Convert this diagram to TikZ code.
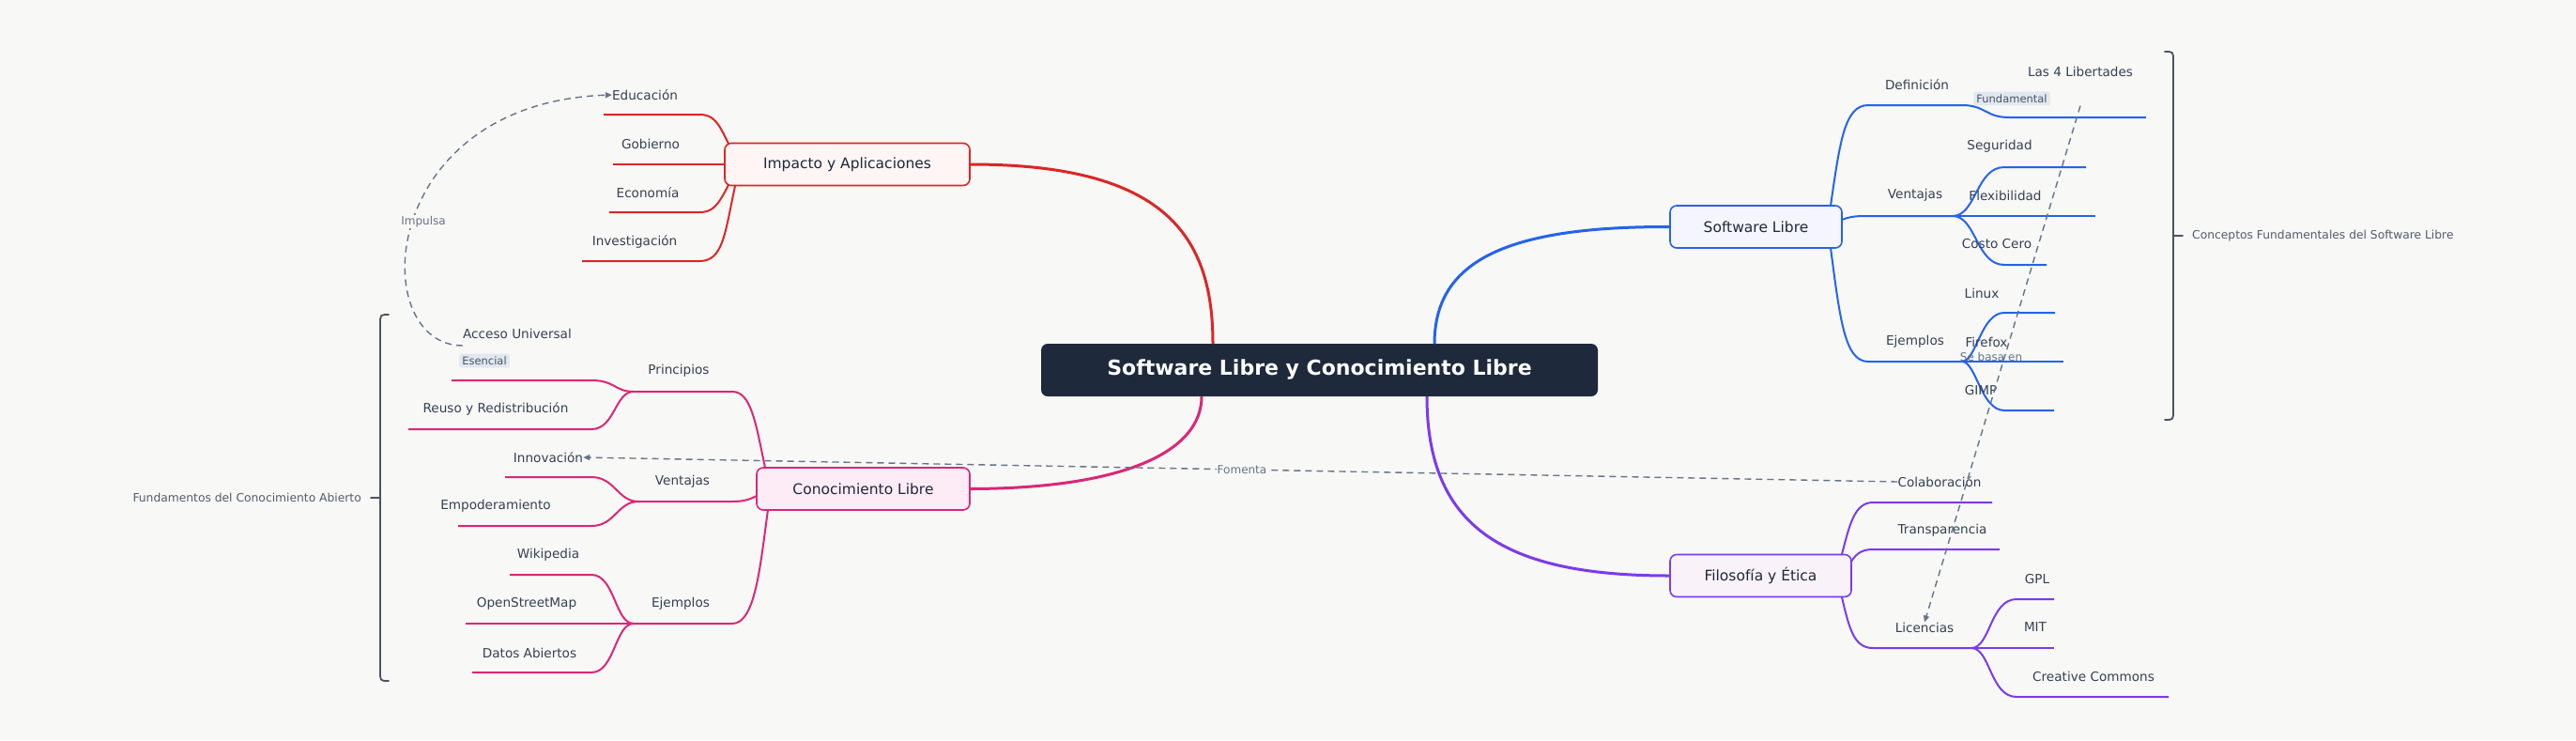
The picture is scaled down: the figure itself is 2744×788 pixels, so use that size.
\documentclass[tikz,border=0pt]{standalone}
\usepackage{fontspec}
\setmainfont{DejaVu Sans}
\usetikzlibrary{arrows.meta}
\definecolor{bg}{HTML}{F8F8F6}
\definecolor{txt}{HTML}{334155}
\definecolor{dark}{HTML}{1E293B}
\definecolor{cblue}{HTML}{2563EB}
\definecolor{cpurp}{HTML}{7C3AED}
\definecolor{cred}{HTML}{DC2626}
\definecolor{cpink}{HTML}{DB2777}
\definecolor{rel}{HTML}{64748B}
\definecolor{tagbg}{HTML}{E2E8F0}
\begin{document}
\begin{tikzpicture}[x=1pt,y=-1pt,
  lbl/.style={text=txt,font=\fontsize{13.6}{15}\selectfont,inner sep=0pt},
  mainnode/.style={draw,line width=1.6pt,rounded corners=7pt,minimum height=45pt,font=\fontsize{15.5}{17}\selectfont,text=dark,inner xsep=10pt},
  tagn/.style={fill=tagbg,rounded corners=2pt,text=txt!90,font=\fontsize{11.5}{13}\selectfont,inner sep=3pt},
  relline/.style={draw=rel,dashed,line width=1.4pt,dash pattern=on 7pt off 5pt},
  rellbl/.style={text=rel,font=\fontsize{12}{14}\selectfont,inner sep=1pt},
  br/.style={line width=1.8pt,line cap=round}]
\fill[bg] (0,0) rectangle (2744,788);
% center
\node[fill=dark,rounded corners=7pt,minimum width=593pt,minimum height=56pt,text=white,font=\bfseries\fontsize{22}{26}\selectfont] (c) at (1405.5,394) {Software Libre y Conocimiento Libre};
% main nodes
\node[mainnode,draw=cblue,fill=blue!4,minimum width=183pt] (sl) at (1870.5,241.5) {Software Libre};
\node[mainnode,draw=cpurp,fill=violet!5,minimum width=193pt] (fe) at (1875.5,613) {Filosofía y Ética};
\node[mainnode,draw=cred,fill=red!4,minimum width=261pt] (ia) at (902.5,175) {Impacto y Aplicaciones};
\node[mainnode,draw=cpink,fill=magenta!8,minimum width=227pt] (cl) at (919.5,520.5) {Conocimiento Libre};
% main connectors
\draw[cred,line width=3pt] (ia.east) .. controls (1240,175) and (1292,250) .. (1292,366);
\draw[cpink,line width=3pt] (cl.east) .. controls (1200,520) and (1280,480) .. (1280,422);
\draw[cblue,line width=3pt] (sl.west) .. controls (1600,241) and (1528,280) .. (1528,366);
\draw[cpurp,line width=3pt] (fe.west) .. controls (1600,613) and (1520,560) .. (1520,422);
% ---- Software Libre branches
\begin{scope}[cblue,line width=2pt]
\coordinate (d0) at (1990,112); \coordinate (d1) at (2090,112);
\draw (1950,219) .. controls (1960,150) and (1965,112) .. (d0) -- (d1) .. controls (2115,112) and (2115,125) .. (2140,125) -- (2286,125);
\coordinate (v0) at (1990,230); \coordinate (v1) at (2080,230);
\draw (1962,234) .. controls (1972,230) and (1980,230) .. (v0) -- (v1);
\draw (v1) .. controls (2105,230) and (2105,178) .. (2135,178) -- (2222,178);
\draw (v1) -- (2232,230);
\draw (v1) .. controls (2105,230) and (2105,282) .. (2135,282) -- (2180,282);
\coordinate (e0) at (1990,385); \coordinate (e1) at (2090,385);
\draw (1950,264) .. controls (1960,340) and (1965,385) .. (e0) -- (e1);
\draw (e1) .. controls (2105,385) and (2110,333) .. (2135,333) -- (2189,333);
\draw (e1) -- (2198,385);
\draw (e1) .. controls (2105,385) and (2110,437) .. (2135,437) -- (2188,437);
\end{scope}
\node[lbl] (ldef) at (2042,90) {Definición};
\node[lbl] (l4l) at (2216,76) {Las 4 Libertades};
\node[tagn] (tfund) at (2143,105) {Fundamental};
\node[lbl] (lven) at (2040,208) {Ventajas};
\node[lbl] (lseg) at (2130,156) {Seguridad};
\node[lbl] (lflex) at (2136,208) {Flexibilidad};
\node[lbl] (lcc) at (2127,260) {Costo Cero};
\node[lbl] (leje) at (2040,364) {Ejemplos};
\node[lbl] (llin) at (2111,312) {Linux};
\node[lbl] (lff) at (2116,364) {Firefox};
\node[lbl] (lgimp) at (2110,416) {GIMP};
% bracket right
\draw[dark!80,br] (2306,55) .. controls (2315,55) .. (2315,65) -- (2315,437) .. controls (2315,447) .. (2306,447);
\draw[dark!80,br] (2315,251) -- (2325,251);
\node[text=rel!80!black,font=\fontsize{12.3}{14}\selectfont,anchor=west,inner sep=0pt] (bsl) at (2335,251) {Conceptos Fundamentales del Software Libre};
% ---- Filosofía branches
\begin{scope}[cpurp,line width=2pt]
\draw (1962,590) .. controls (1970,560) and (1975,535) .. (1995,535) -- (2122,535);
\draw (1972,598) .. controls (1978,588) and (1985,585) .. (1995,585) -- (2130,585);
\coordinate (li1) at (2100,690);
\draw (1962,636) .. controls (1970,670) and (1975,690) .. (1995,690) -- (li1);
\draw (li1) .. controls (2120,690) and (2120,638) .. (2148,638) -- (2188,638);
\draw (li1) -- (2188,690);
\draw (li1) .. controls (2120,690) and (2120,742) .. (2148,742) -- (2310,742);
\end{scope}
\node[lbl] (lcol) at (2066,513) {Colaboración};
\node[lbl] (ltra) at (2069,565) {Transparencia};
\node[lbl] (llic) at (2050,668) {Licencias};
\node[lbl] (lgpl) at (2170,617) {GPL};
\node[lbl] (lmit) at (2168,668) {MIT};
\node[lbl] (lcrc) at (2230,720) {Creative Commons};
% ---- Impacto branches
\begin{scope}[cred,line width=2pt]
\draw (776,153) .. controls (765,130) and (760,122) .. (745,122) -- (643,122);
\draw (ia.west) -- (653,175);
\draw (776,197) .. controls (765,218) and (760,226) .. (745,226) -- (649,226);
\draw (783,198) .. controls (772,250) and (770,278) .. (745,278) -- (620,278);
\end{scope}
\node[lbl] (ledu) at (687,101) {Educación};
\node[lbl] (lgob) at (693,153) {Gobierno};
\node[lbl] (leco) at (690,205) {Economía};
\node[lbl] (linv) at (676,257) {Investigación};
% ---- Conocimiento branches
\begin{scope}[cpink,line width=2pt]
\coordinate (p1) at (675,417);
\draw (815,498) .. controls (805,450) and (800,417) .. (780,417) -- (p1);
\draw (p1) .. controls (655,417) and (655,405) .. (630,405) -- (481,405);
\draw (p1) .. controls (655,417) and (655,457) .. (630,457) -- (435,457);
\coordinate (q1) at (680,534);
\draw (806,528) .. controls (798,532) and (792,534) .. (780,534) -- (q1);
\draw (q1) .. controls (658,534) and (655,508) .. (630,508) -- (538,508);
\draw (q1) .. controls (658,534) and (655,560) .. (630,560) -- (488,560);
\coordinate (r1) at (675,664);
\draw (818,543) .. controls (810,600) and (805,664) .. (780,664) -- (r1);
\draw (r1) .. controls (655,664) and (655,612) .. (630,612) -- (543,612);
\draw (r1) -- (496,664);
\draw (r1) .. controls (655,664) and (655,716) .. (630,716) -- (503,716);
\end{scope}
\node[lbl] (lpri) at (723,395) {Principios};
\node[lbl] (lacc) at (551,355) {Acceso Universal};
\node[tagn] (tes) at (516,384) {Esencial};
\node[lbl] (lreu) at (528,435) {Reuso y Redistribución};
\node[lbl] (lven2) at (727,513) {Ventajas};
\node[lbl] (linn) at (584,487) {Innovación};
\node[lbl] (lemp) at (528,539) {Empoderamiento};
\node[lbl] (leje2) at (725,643) {Ejemplos};
\node[lbl] (lwik) at (584,591) {Wikipedia};
\node[lbl] (losm) at (561,643) {OpenStreetMap};
\node[lbl] (ldat) at (564,695) {Datos Abiertos};
% bracket left
\draw[dark!80,br] (414,335) .. controls (405,335) .. (405,345) -- (405,715) .. controls (405,725) .. (414,725);
\draw[dark!80,br] (405,530) -- (395,530);
\node[text=rel!80!black,font=\fontsize{12.3}{14}\selectfont,anchor=east,inner sep=0pt] (bcl) at (385,530) {Fundamentos del Conocimiento Abierto};
% ---- relations
\draw[relline,-{Triangle[length=7pt,width=6pt]}] (lacc.west|-0,368) .. controls (390,368) and (400,110) .. (ledu.west);
\node[rellbl,fill=bg] at (451,236) {Impulsa};
\draw[relline,-{Triangle[length=7pt,width=6pt]}] (lcol.west) -- (linn.east);
\node[rellbl,fill=bg] at (1323,500) {Fomenta};
\draw[relline,-{Triangle[length=7pt,width=6pt]}] (tfund.south-|2216,0) -- (llic.north);
\node[rellbl] at (2121,380) {Se basa en};
\end{tikzpicture}
\end{document}
